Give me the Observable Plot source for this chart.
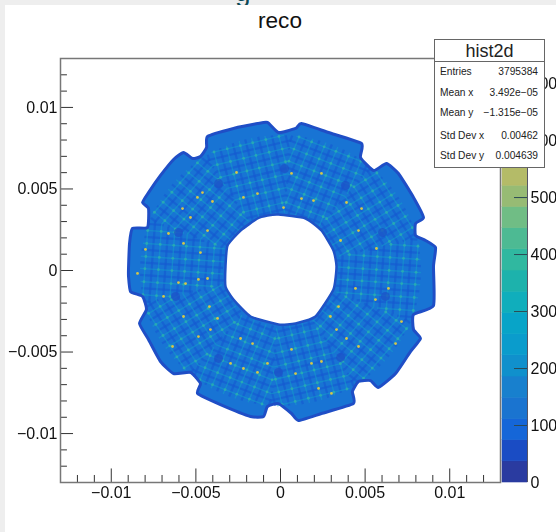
<!DOCTYPE html>
<html>
<head>
<meta charset="utf-8">
<script src="https://cdn.jsdelivr.net/npm/d3@7"></script>
<script src="https://cdn.jsdelivr.net/npm/@observablehq/plot@0.6"></script>
<style>
html,body{margin:0;padding:0;background:#eeeeee;width:556px;height:532px;overflow:hidden;font-family:"Liberation Sans",sans-serif}
#page{position:absolute;left:5px;top:5px;width:551px;height:527px;background:#fff}
.layer{position:absolute;left:0;top:0}
.layer svg{display:block;background:transparent;overflow:hidden}
.abs{position:absolute;white-space:nowrap}
#stats{position:absolute;left:434px;top:39px;width:109px;height:127px;background:#fff;border:1.5px solid #666;box-sizing:content-box;color:#222}
#stats .head{height:21px;line-height:22px;font-size:18px;text-align:center;border-bottom:1.5px solid #666}
#stats .row{position:absolute;left:5px;right:6px;font-size:10.2px;display:flex;justify-content:space-between}
</style>
</head>
<body>
<div class="abs" id="clipped" style="left:235px;top:-24px;font-size:28px;color:#0d4a57">g</div>
<div id="page"></div>
<div class="layer" id="bar"></div>
<div class="layer" id="main"></div>
<div class="abs" style="left:0;width:560px;text-align:center;top:8px;font-size:22.6px;color:#111">reco</div>
<div id="stats"><div class="head">hist2d</div></div>
<script>
// Positions in units of 1e-3.
const outerX = [-0.77,-1.36,-2.78,-4.31,-4.37,-4.73,-5.20,-5.73,-6.32,-7.09,-7.80,-8.15,-7.80,-7.86,-8.75,-8.92,-8.98,-8.98,-8.86,-8.15,-7.92,-8.33,-7.80,-7.09,-6.32,-5.32,-4.73,-4.90,-3.55,-1.77,-1.00,-0.77,-0.12,0.65,1.06,2.42,4.31,4.25,4.61,5.32,5.79,6.80,7.68,8.27,7.86,7.86,9.04,9.04,9.16,8.57,7.98,7.98,8.45,7.86,6.97,6.26,5.50,4.73,4.79,2.84,1.24,0.89,-0.12];
const outerY = [9.08,9.01,8.71,8.22,7.54,6.99,6.87,7.24,6.81,5.83,4.78,4.17,3.80,2.64,2.58,1.66,0.18,-0.37,-1.29,-1.59,-2.39,-3.25,-4.23,-5.58,-6.32,-6.25,-6.93,-7.54,-8.22,-8.95,-8.95,-8.34,-8.16,-8.77,-9.20,-8.77,-8.16,-7.42,-6.81,-6.75,-7.17,-6.32,-4.97,-4.17,-3.62,-2.70,-2.15,0.25,1.41,1.84,2.15,2.88,3.25,4.48,5.95,6.56,6.13,6.93,7.79,8.46,9.01,8.71,8.46];
const innerX = [-3.25,-3.13,-2.36,-1.36,-0.77,-0.12,1.48,2.42,3.13,3.31,3.13,2.07,0.89,-0.12,-1.77,-2.78,-3.25];
const innerY = [0.25,1.53,2.45,3.19,3.37,3.43,3.19,2.45,1.23,0.25,-1.17,-2.82,-3.25,-3.31,-2.82,-1.78,-0.98];
const moduleAngles = [176,212,248,284,320,356,32,68,104,140];
const brightU = [4.0,4.85,5.65,6.4,7.2,8.0];
const brightV = [-2.7,-1.9,-1.1,-0.3,0.45,1.25,2.05,2.85];
const darkU = [3.6,4.4,5.25,6.0,6.8,7.6];
const darkV = [-2.3,-1.5,-0.7,0.08,0.85,1.65,2.45];
const spotX = [0.24,-3.66,-6.03,-6.20,-3.66,-0.12,3.55,6.20,6.03,3.84];
const spotY = [6.25,5.33,2.33,-1.59,-5.39,-6.25,-5.33,-1.59,2.33,5.21];
const hotX = [-4.61,-4.91,-4.02,-2.60,-2.19,-1.36,-5.79,-5.32,-4.31,-6.62,-4.73,-5.73,0.65,1.24,1.95,2.42,3.90,4.79,3.55,5.67,4.61,0.18,-5.61,-4.85,-6.91,-6.38,-4.20,-3.72,-4.14,-4.85,-5.73,-2.36,-1.65,-1.36,-2.19,-2.95,-0.77,0.65,2.42,1.83,0.89,3.31,3.90,4.61,2.95,3.43,5.61,4.43,6.38,7.15,6.80,3.01,2.25,-7.98,-6.03,-8.45,-4.31];
const hotY = [4.78,4.48,4.23,6.01,4.48,4.72,3.80,3.25,2.45,2.27,1.10,1.66,5.95,4.41,4.29,5.95,4.17,3.80,1.84,1.35,2.45,3.86,-0.80,-0.55,-1.59,-4.66,-2.21,-2.94,-3.62,-4.05,-2.82,-4.17,-4.48,-6.25,-6.01,-5.70,-5.70,-4.84,-5.58,-5.70,-6.32,-3.62,-4.17,-4.66,-2.82,-2.21,-1.78,-1.10,-1.10,-3.13,-4.48,-7.54,-7.23,1.29,-0.74,-0.18,-0.49];
const majorTicks = [-0.01,-0.005,0,0.005,0.01];
const minorTicks = [-0.012,-0.011,-0.009,-0.008,-0.007,-0.006,-0.004,-0.003,-0.002,-0.001,0.001,0.002,0.003,0.004,0.006,0.007,0.008,0.009,0.011,0.012];
const barEdges = [0,37.2,74.4,111.6,148.8,186,223.2,260.4,297.6,334.8,372,409.2,446.4,483.6,520.8,558,595.2,632.4,669.6,706.8,744];
const barColors = ["#2a3ba0","#1a4cc4","#1566d8","#1a74d0","#1880ce","#1090cc","#0a9ccc","#08a4c8","#10aebc","#1db2ac","#30b8a0","#4dba93","#70bd85","#97bb74","#b4bb68","#cdb654","#e5b93f","#f2c432","#f8d028","#f9e020"];
const barTicks = [0,100,200,300,400,500,600,700];
const statNames = ["Entries","Mean x","Mean y","Std Dev x","Std Dev y"];
const statValues = ["3795384","3.492e\u221205","\u22121.315e\u221205","0.00462","0.004639"];
const statTops = [26,47,67,90,110];

statNames.forEach((n,i)=>{
  const r=document.createElement("div");r.className="row";r.style.top=statTops[i]+"px";
  r.innerHTML=`<span>${n}</span><span>${statValues[i]}</span>`;
  document.getElementById("stats").appendChild(r);
});

const milli = (xs,ys)=>xs.map((x,i)=>({x:x*1e-3,y:ys[i]*1e-3}));
const outer = milli(outerX,outerY), inner = milli(innerX,innerY);
const spots = milli(spotX,spotY), hots = milli(hotX,hotY);
const half = Math.tan(18*Math.PI/180), rMax = 8.3, rMin = 3.4;
function toWorld(a,u,v){const c=Math.cos(a),s=Math.sin(a);return [(u*c-v*s)*1e-3,(u*s+v*c)*1e-3];}
function segments(us,vs){
  const out=[];
  for(const deg of moduleAngles){
    const a=deg*Math.PI/180;
    for(const u of us){
      const m=Math.min(u*half,Math.sqrt(Math.max(0,rMax*rMax-u*u)));
      const [x1,y1]=toWorld(a,u,-m),[x2,y2]=toWorld(a,u,m);
      out.push({x1,y1,x2,y2});
    }
    for(const v of vs){
      const lo=Math.max(Math.abs(v)/half,Math.sqrt(Math.max(0,rMin*rMin-v*v)));
      const hi=Math.sqrt(rMax*rMax-v*v);
      if(hi<=lo) continue;
      const [x1,y1]=toWorld(a,lo,v),[x2,y2]=toWorld(a,hi,v);
      out.push({x1,y1,x2,y2});
    }
  }
  return out;
}
function crossings(us,vs){
  const out=[];
  for(const deg of moduleAngles){
    const a=deg*Math.PI/180;
    for(const u of us) for(const v of vs){
      if(Math.abs(v)>u*half||u*u+v*v>rMax*rMax) continue;
      const [x,y]=toWorld(a,u,v);out.push({x,y});
    }
  }
  return out;
}
const labelFmt = d=> d===0?"0":(d<0?"\u2212":"")+String(Math.abs(d));
const frameInk="#777", tickInk="#333", font='"Liberation Sans",sans-serif';
const ring = {x:"x",y:"y",curve:"cardinal-closed",tension:0.5};
const main = Plot.plot({
  width:556,height:532,marginLeft:60,marginRight:56,marginTop:58,marginBottom:50,
  x:{domain:[-0.013,0.013]},y:{domain:[-0.013,0.013]},
  style:{background:"transparent",filter:"blur(0.45px)",fontFamily:font},
  marks:[
    Plot.line(outer,{...ring,fill:"#1874d4",stroke:"none"}),
    Plot.link(segments(darkU,darkV),{x1:"x1",y1:"y1",x2:"x2",y2:"y2",stroke:"#1558d0",strokeWidth:2.2,strokeOpacity:0.6}),
    Plot.link(segments(brightU,brightV),{x1:"x1",y1:"y1",x2:"x2",y2:"y2",stroke:"#149cc8",strokeWidth:1.4,strokeOpacity:0.55}),
    Plot.dot(crossings(brightU,brightV),{x:"x",y:"y",r:1.4,fill:"#28a8b4",stroke:"none"}),
    Plot.dot(spots,{x:"x",y:"y",r:4.5,fill:"#1c52c8",stroke:"none",fillOpacity:0.75}),
    Plot.dot(hots,{x:"x",y:"y",r:1.4,fill:"#d4c64a",stroke:"none"}),
    Plot.line(outer,{...ring,stroke:"#1f4ec6",strokeWidth:3}),
    Plot.line(inner,{...ring,fill:"#fff",stroke:"#1f52c6",strokeWidth:2.5}),
    Plot.ruleX(majorTicks,{y1:-0.013,y2:-0.01217,stroke:tickInk}),
    Plot.ruleX(minorTicks,{y1:-0.013,y2:-0.01257,stroke:tickInk}),
    Plot.ruleY(majorTicks,{x1:-0.013,x2:-0.01223,stroke:tickInk}),
    Plot.ruleY(minorTicks,{x1:-0.013,x2:-0.01259,stroke:tickInk}),
    Plot.frame({stroke:frameInk,strokeWidth:1.5}),
    Plot.axisX({ticks:majorTicks,tickSize:0,tickPadding:4,label:null,tickFormat:labelFmt,fontSize:16,fill:"#111"}),
    Plot.axisY({ticks:majorTicks,tickSize:0,tickPadding:3,label:null,tickFormat:labelFmt,fontSize:16,fill:"#111"})
  ]
});
document.getElementById("main").appendChild(main);

const bands = barColors.map((c,i)=>({low:barEdges[i],high:barEdges[i+1]}));
const bar = Plot.plot({
  width:556,height:532,marginLeft:502,marginRight:29,marginTop:58,marginBottom:50,
  x:{domain:[0,1],axis:null},y:{domain:[0,744]},
  color:{type:"ordinal",domain:barEdges.slice(0,-1),range:barColors},
  style:{background:"transparent",filter:"blur(0.45px)",fontFamily:font},
  marks:[
    Plot.rectY(bands,{x1:0,x2:1,y1:"low",y2:"high",fill:"low",stroke:"low",strokeWidth:0.6}),
    Plot.ruleY(barTicks.slice(1),{x1:0.48,x2:1,stroke:"#2b4a55"}),
    Plot.ruleX([1],{stroke:"#556",strokeWidth:1}),
    Plot.axisY({anchor:"right",ticks:barTicks,tickSize:0,tickPadding:3,label:null,fontSize:16,fill:"#111",tickFormat:d=>String(d)})
  ]
});
document.getElementById("bar").appendChild(bar);
</script>
</body>
</html>
